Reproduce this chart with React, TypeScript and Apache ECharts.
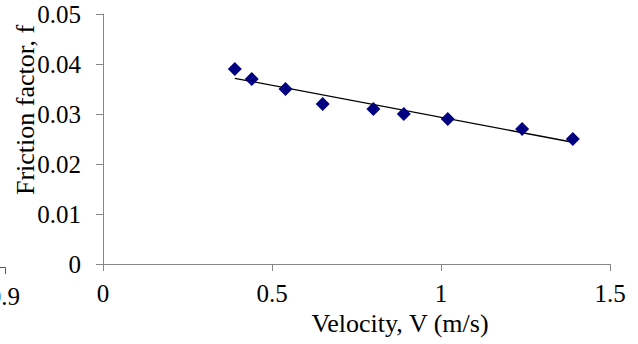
import React, { useEffect, useRef } from "react";
import * as echarts from "echarts";

const velocity = [0.39, 0.44, 0.54, 0.65, 0.8, 0.89, 1.02, 1.24, 1.39];
const friction = [0.039, 0.037, 0.035, 0.032, 0.031, 0.03, 0.029, 0.027, 0.025];
const xTitle = "Velocity, V (m/s)";
const yTitle = "Friction factor, f";
const strayLabel = "0.9";

function linearFit(xs: number[], ys: number[]) {
  const n = xs.length;
  const mx = xs.reduce((a, b) => a + b, 0) / n;
  const my = ys.reduce((a, b) => a + b, 0) / n;
  let sxy = 0;
  let sxx = 0;
  for (let i = 0; i < n; i++) {
    sxy += (xs[i] - mx) * (ys[i] - my);
    sxx += (xs[i] - mx) * (xs[i] - mx);
  }
  const slope = sxy / sxx;
  return { slope, intercept: my - slope * mx };
}

export default function App() {
  const ref = useRef<HTMLDivElement>(null);
  useEffect(() => {
    if (!ref.current) return;
    const chart = echarts.init(ref.current, null, { renderer: "svg" });
    const fit = linearFit(velocity, friction);
    const x0 = Math.min(...velocity);
    const x1 = Math.max(...velocity);
    const font = "'Liberation Serif', 'Times New Roman', Times, 'DejaVu Serif', serif";
    const axisColor = "#868686";
    chart.setOption({
      animation: false,
      grid: { left: 103, right: 28, top: 14, bottom: 80, containLabel: false },
      xAxis: {
        type: "value",
        min: 0,
        max: 1.5,
        interval: 0.5,
        axisLine: { show: true, lineStyle: { color: axisColor, width: 1 } },
        axisTick: { show: true, length: 7, lineStyle: { color: axisColor } },
        splitLine: { show: false },
        axisLabel: { color: "#000", fontFamily: font, fontSize: 25, margin: 17 },
      },
      yAxis: {
        type: "value",
        min: 0,
        max: 0.05,
        interval: 0.01,
        axisLine: { show: true, lineStyle: { color: axisColor, width: 1 } },
        axisTick: { show: true, length: 7, lineStyle: { color: axisColor } },
        splitLine: { show: false },
        axisLabel: { color: "#000", fontFamily: font, fontSize: 25, margin: 22 },
      },
      series: [
        {
          type: "line",
          data: [
            [x0, fit.intercept + fit.slope * x0],
            [x1, fit.intercept + fit.slope * x1],
          ],
          showSymbol: false,
          symbol: "none",
          lineStyle: { color: "#000", width: 1.3 },
          z: 3,
        },
        {
          type: "scatter",
          data: velocity.map((v, i) => [v, friction[i]]),
          symbol: "diamond",
          symbolSize: 14,
          itemStyle: { color: "#000080", opacity: 1 },
          z: 4,
        },
      ],
      graphic: [
        {
          type: "text",
          x: 400,
          y: 323,
          style: {
            text: xTitle,
            fontFamily: font,
            fontSize: 26,
            fill: "#000",
            align: "center",
            verticalAlign: "middle",
          },
        },
        {
          type: "text",
          x: 25,
          y: 110,
          rotation: Math.PI / 2,
          style: {
            text: yTitle,
            fontFamily: font,
            fontSize: 26,
            fill: "#000",
            align: "center",
            verticalAlign: "middle",
          },
        },
        {
          type: "text",
          x: 20,
          y: 296,
          style: {
            text: strayLabel,
            fontFamily: font,
            fontSize: 25,
            fill: "#000",
            align: "right",
            verticalAlign: "middle",
          },
        },
        {
          type: "polyline",
          shape: { points: [[0, 267.5], [5.5, 267.5], [5.5, 274]] },
          style: { stroke: "#555", lineWidth: 1, fill: "none" },
        },
      ],
    });
    return () => chart.dispose();
  }, []);
  return (
    <div
      ref={ref}
      style={{ position: "fixed", left: 0, top: 0, width: 638, height: 344, background: "#fff" }}
    />
  );
}
